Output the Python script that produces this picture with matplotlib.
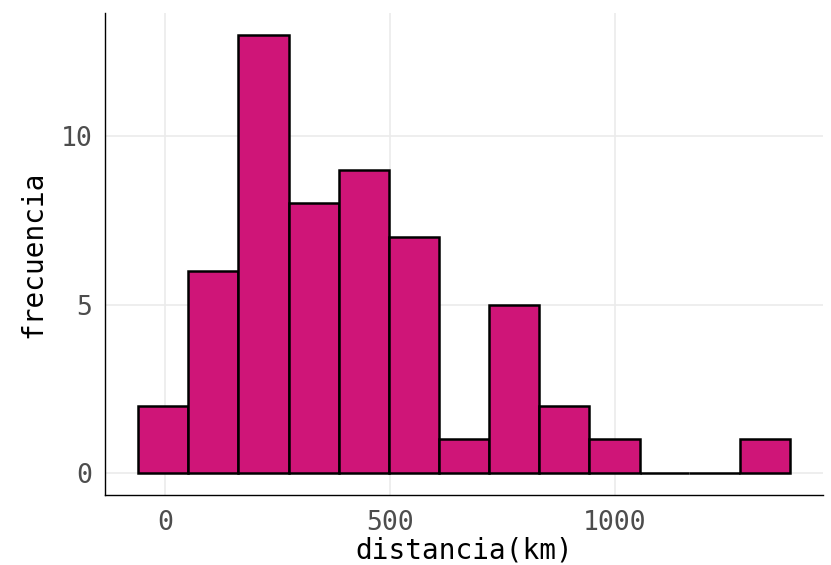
import matplotlib
matplotlib.use("Agg")
import matplotlib.pyplot as plt
import numpy as np

# Histogram of distances: bin edges (km) and counts per bin
bin_edges = [-62, 51, 162, 274, 386, 498, 609, 720, 832, 944, 1056, 1167, 1279, 1391]
counts = [2, 6, 13, 8, 9, 7, 1, 5, 2, 1, 0, 0, 1]

x_ticks = [0, 500, 1000]
y_ticks = [0, 5, 10]

plt.rcParams["font.family"] = ["DejaVu Sans Mono"]

fig = plt.figure(figsize=(8.31, 5.65), dpi=100)
ax = fig.add_axes([0.1264, 0.1239, 0.8636, 0.853])

edges = np.array(bin_edges, dtype=float)
widths = np.diff(edges)
ax.bar(edges[:-1], counts, width=widths, align="edge",
       color="#CF1578", edgecolor="black", linewidth=1.8, zorder=3)

span = edges[-1] - edges[0]
ax.set_xlim(edges[0] - 0.05 * span, edges[-1] + 0.05 * span)
ymax = max(counts)
ax.set_ylim(-0.05 * ymax, ymax * 1.05)

ax.set_xticks(x_ticks)
ax.set_yticks(y_ticks)
ax.grid(True, color="#EBEBEB", linewidth=1.2, zorder=0)
ax.set_axisbelow(True)

for side in ("top", "right"):
    ax.spines[side].set_visible(False)
for side in ("left", "bottom"):
    ax.spines[side].set_color("black")
    ax.spines[side].set_linewidth(1.0)

ax.tick_params(axis="both", length=0, labelsize=19, labelcolor="#4D4D4D")
ax.tick_params(axis="x", pad=11)
ax.tick_params(axis="y", pad=9)

ax.set_xlabel("distancia(km)", fontsize=20, color="black", labelpad=0)
ax.set_ylabel("frecuencia", fontsize=20, color="black", labelpad=10)

fig.savefig("out.png", dpi=100, facecolor="white")
